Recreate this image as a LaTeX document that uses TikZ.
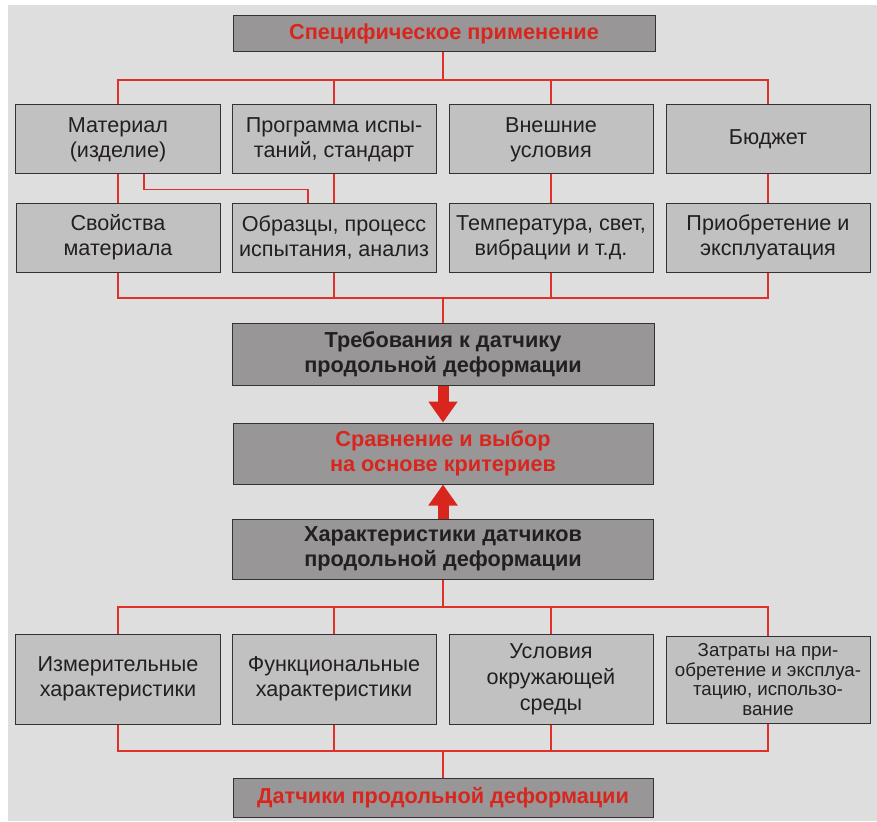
\documentclass[tikz,border=0pt]{standalone}
\usepackage{fontspec}
\setmainfont{Liberation Sans}
\usetikzlibrary{arrows.meta}
\definecolor{bgc}{HTML}{DEDEDE}
\definecolor{lightfill}{HTML}{C1C1C1}
\definecolor{darkfill}{HTML}{989696}
\definecolor{boxline}{HTML}{333333}
\definecolor{txt}{HTML}{231F20}
\definecolor{redtxt}{HTML}{D8261E}
\definecolor{redline}{HTML}{E0302A}
\tikzset{
  lbox/.style={draw=boxline, line width=1pt, fill=lightfill, inner sep=0pt, align=center,
    text=txt, font=\fontsize{21.6}{25}\selectfont},
  dbox/.style={lbox, fill=darkfill, font=\bfseries\fontsize{21.7}{25}\selectfont},
  conn/.style={draw=redline, line width=1.1pt},
  bigarrow/.style={draw=redtxt, line width=11pt, -{Triangle[width=28pt,length=21pt]}}
}
\begin{document}
\begin{tikzpicture}[x=1pt,y=-1pt]
\useasboundingbox (0,0) rectangle (877,821);
\fill[bgc] (8,5) rectangle (877,821);
% top
\node[dbox, text=redtxt, minimum width=422pt, minimum height=36pt] (top) at (444,34) {Специфическое применение};
% row 1
\node[lbox, minimum width=205pt, minimum height=69pt] (a1) at (118,139.5) {Материал\\(изделие)};
\node[lbox, minimum width=204pt, minimum height=69pt] (a2) at (334,139.5) {Программа испы-\\таний, стандарт};
\node[lbox, minimum width=204pt, minimum height=69pt] (a3) at (551,139.5) {Внешние\\условия};
\node[lbox, minimum width=204pt, minimum height=69pt] (a4) at (768,139.5) {Бюджет};
% row 2
\node[lbox, minimum width=204pt, minimum height=69pt] (b1) at (118,237.5) {Свойства\\материала};
\node[lbox, minimum width=204pt, minimum height=69pt] (b2) at (334,237.5) {Образцы, процесс\\испытания, анализ};
\node[lbox, minimum width=204pt, minimum height=69pt] (b3) at (551,237.5) {Температура, свет,\\вибрации и т.д.};
\node[lbox, minimum width=204pt, minimum height=69pt] (b4) at (768,237.5) {Приобретение и\\эксплуатация};
% middle
\node[dbox, minimum width=422pt, minimum height=62pt] (req) at (443,354) {Требования к датчику\\продольной деформации};
\node[dbox, text=redtxt, minimum width=420pt, minimum height=61pt] (cmp) at (443,453.5) {Сравнение и выбор\\на основе критериев};
\node[dbox, minimum width=421pt, minimum height=60pt] (chr) at (443,549) {Характеристики датчиков\\продольной деформации};
% row 3
\node[lbox, minimum width=205pt, minimum height=90pt] (c1) at (118,679) {Измерительные\\характеристики};
\node[lbox, minimum width=204pt, minimum height=90pt] (c2) at (334,679) {Функциональные\\характеристики};
\node[lbox, minimum width=204pt, minimum height=90pt, font=\fontsize{21.6}{26}\selectfont] (c3) at (551,679) {Условия\\окружающей\\среды};
\node[lbox, minimum width=204pt, minimum height=87pt, font=\fontsize{18.7}{19.8}\selectfont] (c4) at (768,679.5) {Затраты на при-\\обретение и эксплуа-\\тацию, использо-\\вание};
% final
\node[dbox, text=redtxt, minimum width=420pt, minimum height=39pt] (fin) at (443,797.5) {Датчики продольной деформации};
% connectors
\coordinate (bus1) at (443,80);
\coordinate (bus2) at (443,298);
\coordinate (bus3) at (443,607);
\coordinate (bus4) at (443,751);
\draw[conn] (top.south -| bus1) -- (bus1);
\draw[conn] (a1.north) |- (bus1);
\draw[conn] (a4.north) |- (bus1);
\draw[conn] (a2.north) -- (a2.north |- bus1);
\draw[conn] (a3.north) -- (a3.north |- bus1);
\draw[conn] (a1.south) -- (b1.north);
\draw[conn] (a2.south) -- (b2.north);
\draw[conn] (a3.south) -- (b3.north);
\draw[conn] (a4.south) -- (b4.north);
\draw[conn] ([xshift=26pt]a1.south) -- ++(0,15) -| ([xshift=-26pt]b2.north);
\draw[conn] (b1.south) |- (bus2);
\draw[conn] (b4.south) |- (bus2);
\draw[conn] (b2.south) -- (b2.south |- bus2);
\draw[conn] (b3.south) -- (b3.south |- bus2);
\draw[conn] (bus2) -- (req.north -| bus2);
\draw[conn] (chr.south -| bus3) -- (bus3);
\draw[conn] (c1.north) |- (bus3);
\draw[conn] (c4.north) |- (bus3);
\draw[conn] (c2.north) -- (c2.north |- bus3);
\draw[conn] (c3.north) -- (c3.north |- bus3);
\draw[conn] (c1.south) |- (bus4);
\draw[conn] (c4.south) |- (bus4);
\draw[conn] (c2.south) -- (c2.south |- bus4);
\draw[conn] (c3.south) -- (c3.south |- bus4);
\draw[conn] (bus4) -- (fin.north -| bus4);
% big arrows
\draw[bigarrow] (req.south) -- (cmp.north);
\draw[bigarrow] (chr.north) -- (cmp.south);
\end{tikzpicture}
\end{document}
